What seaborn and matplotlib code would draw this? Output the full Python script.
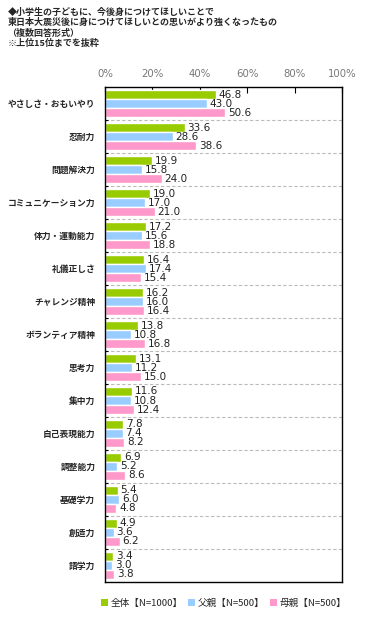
import numpy as np
import pandas as pd
import matplotlib
matplotlib.use('Agg')
import matplotlib.pyplot as plt
import seaborn as sns
from matplotlib.patches import Patch

# data
items = ['やさしさ・おもいやり', '忍耐力', '問題解決力', 'コミュニケーション力', '体力・運動能力',
         '礼儀正しさ', 'チャレンジ精神', 'ボランティア精神', '思考力', '集中力',
         '自己表現能力', '調整能力', '基礎学力', '創造力', '語学力']
zentai = [46.8, 33.6, 19.9, 19.0, 17.2, 16.4, 16.2, 13.8, 13.1, 11.6, 7.8, 6.9, 5.4, 4.9, 3.4]
chichi = [43.0, 28.6, 15.8, 17.0, 15.6, 17.4, 16.0, 10.8, 11.2, 10.8, 7.4, 5.2, 6.0, 3.6, 3.0]
haha = [50.6, 38.6, 24.0, 21.0, 18.8, 15.4, 16.4, 16.8, 15.0, 12.4, 8.2, 8.6, 4.8, 6.2, 3.8]
groups = ['全体【N=1000】', '父親【N=500】', '母親【N=500】']
colors = ['#99CC00', '#99CCFF', '#FF99CC']
xticks = [0, 20, 40, 60, 80, 100]

sns.set_theme(style='white')
plt.rcParams['font.family'] = ['Noto Sans CJK JP', 'DejaVu Sans']

df = pd.DataFrame({
    'item': items * 3,
    'value': zentai + chichi + haha,
    'group': [groups[0]] * 15 + [groups[1]] * 15 + [groups[2]] * 15,
})

fig = plt.figure(figsize=(3.75, 6.23), dpi=100)
ax = fig.add_axes([0.28, 0.066, 0.632, 0.794])

sns.barplot(data=df, x='value', y='item', hue='group', orient='h',
            palette=colors, width=0.82, saturation=1, ax=ax, legend=False)

# value labels
for cont in ax.containers:
    ax.bar_label(cont, fmt='%.1f', padding=2, fontsize=7.5, color='#222222',
                 family='DejaVu Sans')

ax.set_xlim(0, 100)
ax.set_ylim(14.5, -0.5)
ax.set_xlabel('')
ax.set_ylabel('')
ax.xaxis.tick_top()
ax.set_xticks(xticks)
ax.set_xticklabels([f'{t}%' for t in xticks], fontsize=7.3, color='#777777',
                   family='DejaVu Sans')
ax.tick_params(axis='x', direction='in', length=4, width=0.8, color='black', pad=6)
ax.tick_params(axis='y', length=0, pad=7, labelsize=6.3)
for lab in ax.get_yticklabels():
    lab.set_fontweight('bold')

# dashed separators between groups
for b in np.arange(0.5, 14.5, 1):
    ax.axhline(b, color='#BBBBBB', linestyle=(0, (3, 2)), linewidth=0.8, zorder=0)
ax.set_yticks(np.arange(0.5, 14.5, 1), minor=True)
ax.tick_params(axis='y', which='minor', direction='in', length=2, width=0.8, color='black', left=True)

for s in ax.spines.values():
    s.set_color('black')
    s.set_linewidth(1.0)

fig.text(0.02, 0.987, '◆小学生の子どもに、今後身につけてほしいことで\n東日本大震災後に身につけてほしいとの思いがより強くなったもの\n（複数回答形式）\n※上位15位までを抜粋',
         ha='left', va='top', fontsize=6.5, linespacing=1.15, fontweight='bold')

handles = [Patch(facecolor=c, edgecolor='none') for c in colors]
fig.legend(handles, groups, loc='center', bbox_to_anchor=(0.597, 0.032), ncol=3,
           frameon=False, fontsize=6.9, handlelength=0.7, handleheight=0.7,
           handletextpad=0.3, columnspacing=0.6)

fig.savefig('out.png', dpi=100)
